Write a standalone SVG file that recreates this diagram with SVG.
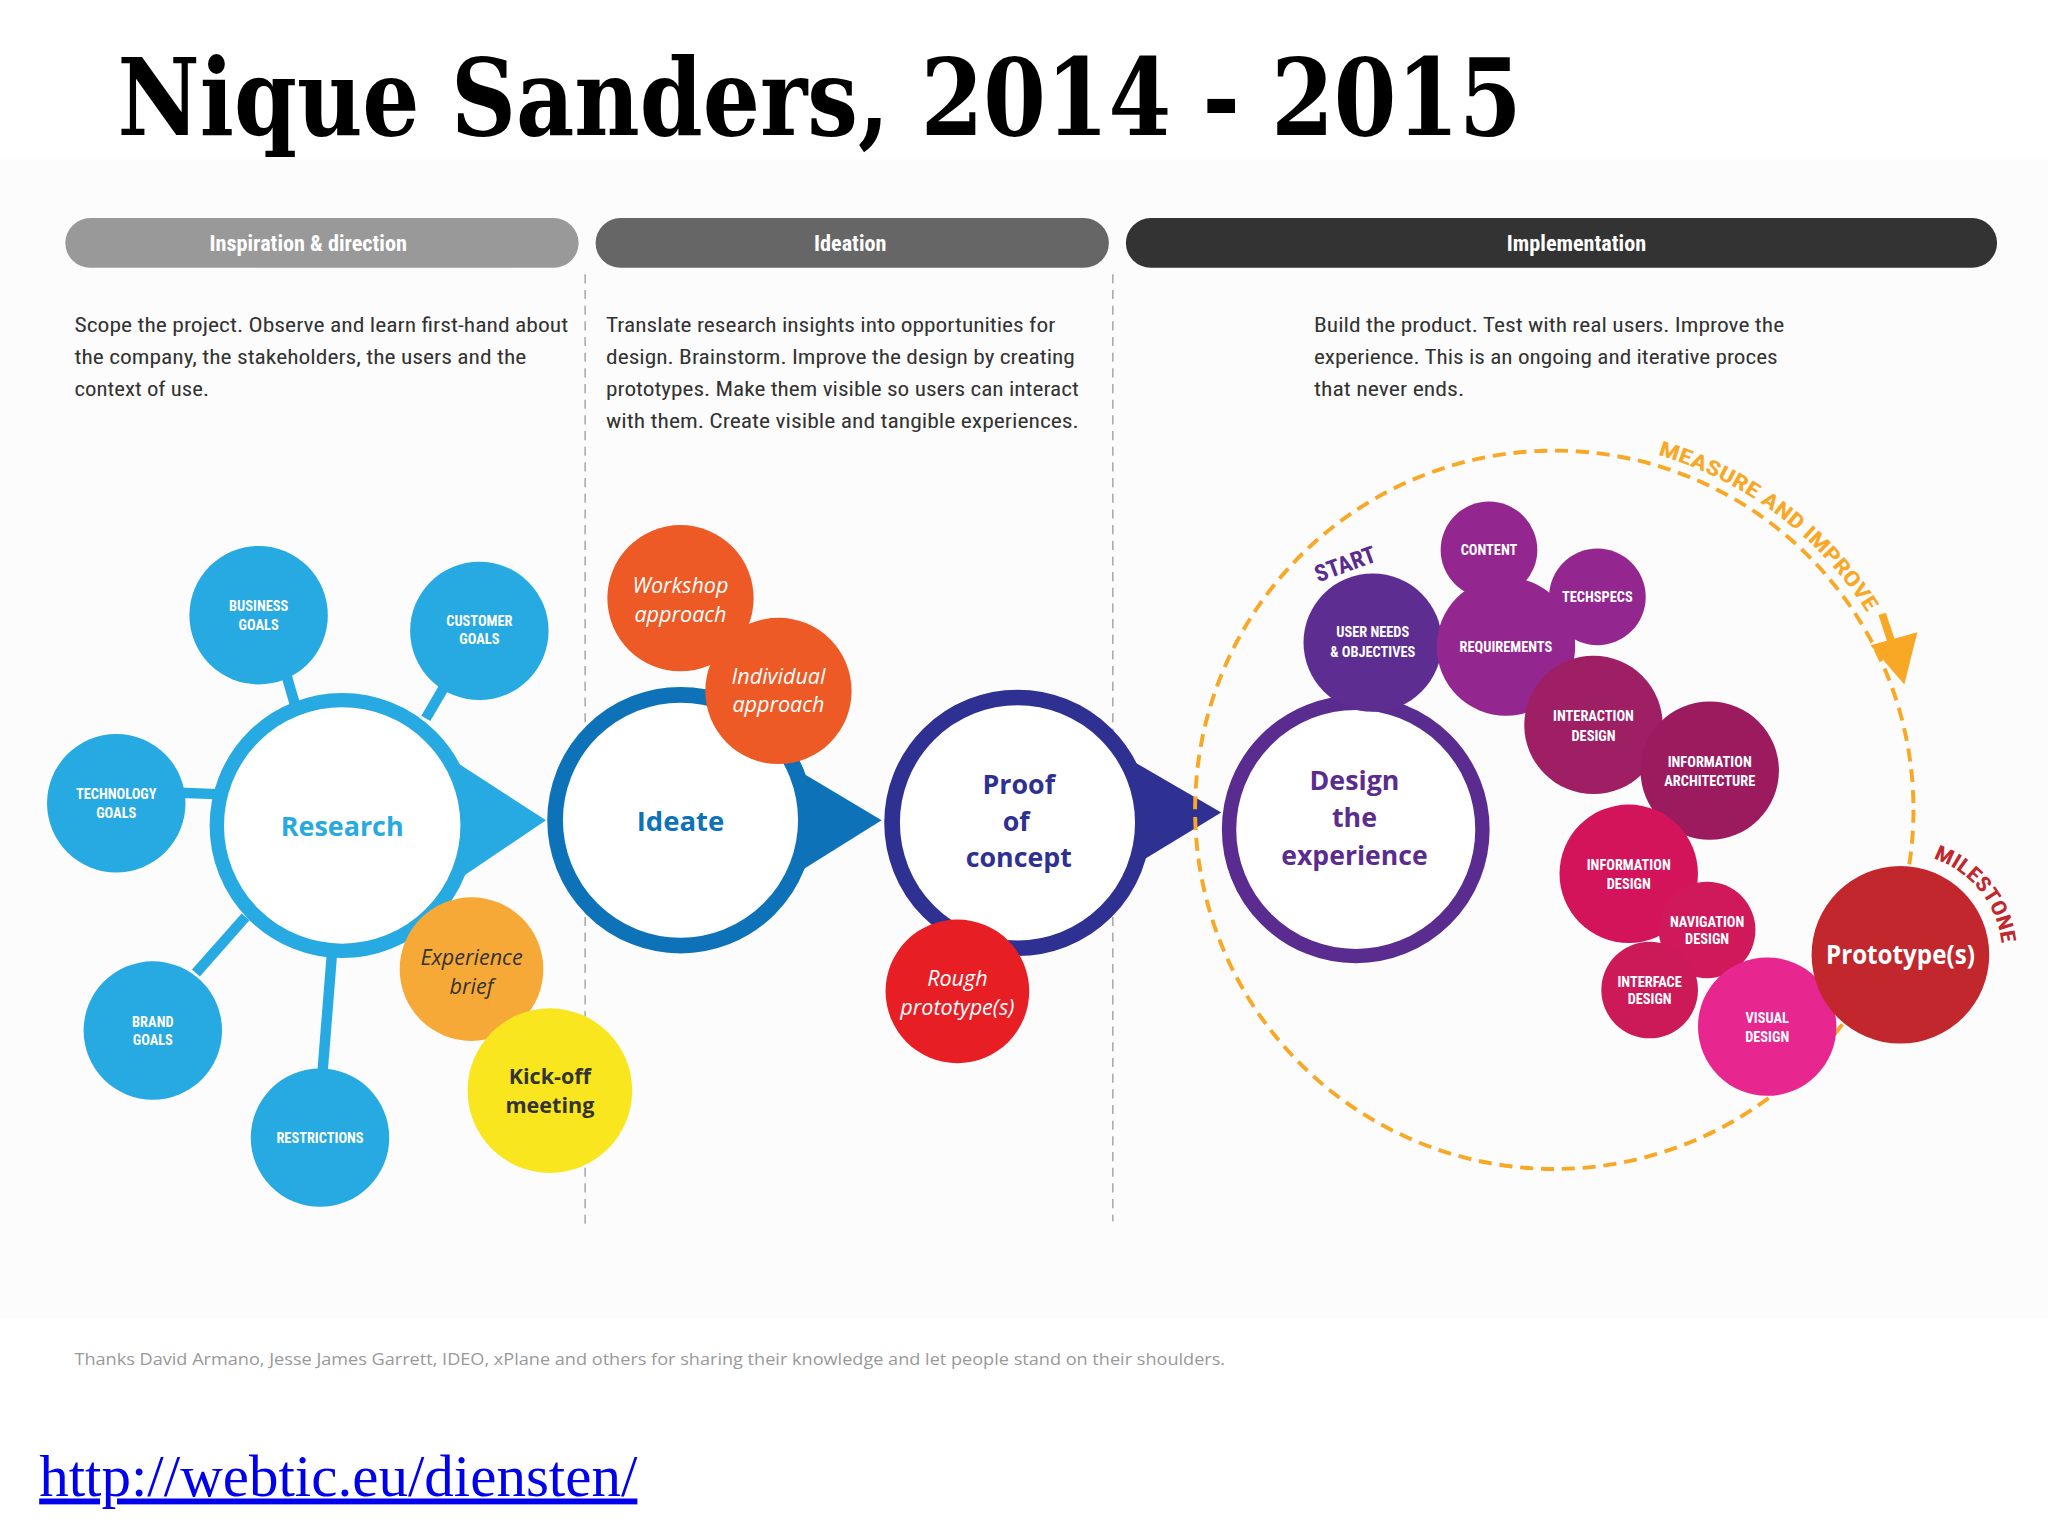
<svg xmlns="http://www.w3.org/2000/svg" width="2048" height="1536" viewBox="0 0 2048 1536">
<style>
.lbl{font-family:"Liberation Sans Narrow","Roboto Condensed",Roboto,sans-serif;font-weight:bold;fill:#fff;text-anchor:middle;font-size:11px}
.big{font-family:"Open Sans",Roboto,sans-serif;font-weight:bold;text-anchor:middle;font-size:20.5px}
.it{font-family:"Open Sans",Roboto,sans-serif;font-style:italic;text-anchor:middle;font-size:16.5px}
.kick{font-family:"Open Sans",Roboto,sans-serif;font-weight:bold;text-anchor:middle;font-size:16.5px;fill:#333}
.para{font-family:"Liberation Sans Narrow","Roboto Condensed",Roboto,sans-serif;font-size:16px;fill:#333}
.hdr{font-family:"Liberation Sans Narrow","Roboto Condensed",Roboto,sans-serif;font-size:17px;fill:#fff;text-anchor:middle;font-weight:bold}
.conn{stroke:#27a9e1;stroke-width:8;fill:none}
.sat{fill:#27a9e1}
.vdash{stroke:#aaa;stroke-width:1.2;stroke-dasharray:7 5;fill:none}
</style>
<defs>
<path id="measurePath" d="M1239.1,341.3 A283,283 0 0,1 1468.7,669.1"/>
<path id="milePath" d="M1468.5,654.2 A78,78 0 0,1 1531.8,744.5"/>
</defs>
<rect x="0" y="0" width="2048" height="1536" fill="#ffffff"/>
<g transform="scale(1.306122)">
<rect x="0" y="122" width="1568" height="888" fill="#fcfcfc"/>
<g id="title">
<text x="90" y="103" font-family="'DejaVu Serif',serif" font-weight="bold" font-size="82" fill="#000" textLength="1075" lengthAdjust="spacingAndGlyphs">Nique Sanders, 2014 - 2015</text>
</g>
<g id="headers">
<rect x="50" y="167" width="393" height="38" rx="19" fill="#999999"/>
<text class="hdr" x="236" y="192">Inspiration &amp; direction</text>
<rect x="456" y="167" width="393" height="38" rx="19" fill="#666666"/>
<text class="hdr" x="651" y="192">Ideation</text>
<rect x="862" y="167" width="667" height="38" rx="19" fill="#333333"/>
<text class="hdr" x="1207" y="192">Implementation</text>
</g>
<g id="dividers">
<line class="vdash" x1="448" y1="210" x2="448" y2="940"/>
<line class="vdash" x1="852" y1="210" x2="852" y2="935"/>
</g>
<g id="paragraphs">
<text class="para" x="57" y="254" textLength="378" lengthAdjust="spacingAndGlyphs">Scope the project. Observe and learn first-hand about</text>
<text class="para" x="57" y="279" textLength="346" lengthAdjust="spacingAndGlyphs">the company, the stakeholders, the users and the</text>
<text class="para" x="57" y="303" textLength="103" lengthAdjust="spacingAndGlyphs">context of use.</text>
<text class="para" x="464" y="254" textLength="344" lengthAdjust="spacingAndGlyphs">Translate research insights into opportunities for</text>
<text class="para" x="464" y="279" textLength="359" lengthAdjust="spacingAndGlyphs">design. Brainstorm. Improve the design by creating</text>
<text class="para" x="464" y="303" textLength="362" lengthAdjust="spacingAndGlyphs">prototypes. Make them visible so users can interact</text>
<text class="para" x="464" y="328" textLength="362" lengthAdjust="spacingAndGlyphs">with them. Create visible and tangible experiences.</text>
<text class="para" x="1006" y="254" textLength="360" lengthAdjust="spacingAndGlyphs">Build the product. Test with real users. Improve the</text>
<text class="para" x="1006" y="279" textLength="355" lengthAdjust="spacingAndGlyphs">experience. This is an ongoing and iterative proces</text>
<text class="para" x="1006" y="303" textLength="115" lengthAdjust="spacingAndGlyphs">that never ends.</text>
</g>
<g id="connectors">
<line class="conn" x1="219" y1="516" x2="226" y2="540"/>
<line class="conn" x1="340" y1="526" x2="326" y2="550"/>
<line class="conn" x1="138" y1="607" x2="166" y2="608"/>
<line class="conn" x1="150" y1="745" x2="188" y2="702"/>
<line class="conn" x1="247" y1="820" x2="254" y2="732"/>
<polygon points="350,584 418,628 350,674" fill="#27a9e1"/>
<polygon points="608,588 675,628 608,670" fill="#0e72b9"/>
<polygon points="866,582 935,622 866,664" fill="#2e3192"/>
<circle cx="1190" cy="620" r="275" fill="none" stroke="#f9a826" stroke-width="3" stroke-dasharray="10 6"/>
<line x1="1441" y1="470" x2="1449" y2="494" stroke="#f9a826" stroke-width="6"/>
<polygon points="1432,494 1468,484 1458,524" fill="#f9a826"/>
</g>
<g id="research">
<circle cx="262" cy="632" r="96" fill="#fff" stroke="#27a9e1" stroke-width="11"/>
<text class="big" x="262" y="640" fill="#27a9e1" textLength="94" lengthAdjust="spacingAndGlyphs">Research</text>
</g>
<g id="business-goals"><circle class="sat" cx="198" cy="471" r="53"/><text class="lbl" x="198" y="468">BUSINESS</text><text class="lbl" x="198" y="482">GOALS</text></g>
<g id="customer-goals"><circle class="sat" cx="367" cy="483" r="53"/><text class="lbl" x="367" y="479">CUSTOMER</text><text class="lbl" x="367" y="493">GOALS</text></g>
<g id="technology-goals"><circle class="sat" cx="89" cy="615" r="53"/><text class="lbl" x="89" y="612">TECHNOLOGY</text><text class="lbl" x="89" y="626">GOALS</text></g>
<g id="brand-goals"><circle class="sat" cx="117" cy="789" r="53"/><text class="lbl" x="117" y="786">BRAND</text><text class="lbl" x="117" y="800">GOALS</text></g>
<g id="restrictions"><circle class="sat" cx="245" cy="871" r="53"/><text class="lbl" x="245" y="875">RESTRICTIONS</text></g>
<g id="experience-brief"><circle cx="361" cy="742" r="55" fill="#f7a937"/><text class="it" x="361" y="739" fill="#333">Experience</text><text class="it" x="361" y="761" fill="#333">brief</text></g>
<g id="kick-off"><circle cx="421" cy="835" r="63" fill="#f9e61e"/><text class="kick" x="421" y="830">Kick-off</text><text class="kick" x="421" y="852">meeting</text></g>
<g id="ideate">
<circle cx="521" cy="628" r="96" fill="#fff" stroke="#0e72b9" stroke-width="12"/>
<text class="big" x="521" y="636" fill="#0e72b9" textLength="67" lengthAdjust="spacingAndGlyphs">Ideate</text>
</g>
<g id="workshop"><circle cx="521" cy="458" r="56" fill="#ee5a26"/><text class="it" x="521" y="454" fill="#fff">Workshop</text><text class="it" x="521" y="476" fill="#fff">approach</text></g>
<g id="individual"><circle cx="596" cy="529" r="56" fill="#ee5a26"/><text class="it" x="596" y="524" fill="#fff">Individual</text><text class="it" x="596" y="545" fill="#fff">approach</text></g>
<g id="proof">
<circle cx="779" cy="630" r="96" fill="#fff" stroke="#2e3192" stroke-width="12"/>
<text class="big" x="780" y="608" fill="#2e3192">Proof</text>
<text class="big" x="778" y="636" fill="#2e3192">of</text>
<text class="big" x="780" y="664" fill="#2e3192">concept</text>
</g>
<g id="rough"><circle cx="733" cy="759" r="55" fill="#e81e25"/><text class="it" x="733" y="755" fill="#fff">Rough</text><text class="it" x="733" y="777" fill="#fff">prototype(s)</text></g>
<g id="design">
<circle cx="1038" cy="635" r="97" fill="#fff" stroke="#5b2c8f" stroke-width="11"/>
<text class="big" x="1037" y="605" fill="#5b2c8f">Design</text>
<text class="big" x="1037" y="633" fill="#5b2c8f">the</text>
<text class="big" x="1037" y="662" fill="#5b2c8f" textLength="112" lengthAdjust="spacingAndGlyphs">experience</text>
</g>
<g id="user-needs"><circle cx="1051" cy="492" r="53" fill="#5e2d91"/><text class="lbl" x="1051" y="488">USER NEEDS</text><text class="lbl" x="1051" y="503">&amp; OBJECTIVES</text></g>
<g id="content"><circle cx="1140" cy="421" r="37" fill="#93278f"/><text class="lbl" x="1140" y="425" font-size="10">CONTENT</text></g>
<g id="techspecs"><circle cx="1223" cy="457" r="37" fill="#93278f"/><text class="lbl" x="1223" y="461" font-size="10">TECHSPECS</text></g>
<g id="requirements"><circle cx="1153" cy="495" r="53" fill="#93278f"/><text class="lbl" x="1153" y="499">REQUIREMENTS</text></g>
<g id="interaction-design"><circle cx="1220" cy="555" r="53" fill="#9e1f63"/><text class="lbl" x="1220" y="552">INTERACTION</text><text class="lbl" x="1220" y="567">DESIGN</text></g>
<g id="information-architecture"><circle cx="1309" cy="590" r="53" fill="#9c1a5e"/><text class="lbl" x="1309" y="587">INFORMATION</text><text class="lbl" x="1309" y="602">ARCHITECTURE</text></g>
<g id="information-design"><circle cx="1247" cy="669" r="53" fill="#d4145a"/><text class="lbl" x="1247" y="666">INFORMATION</text><text class="lbl" x="1247" y="681">DESIGN</text></g>
<g id="navigation-design"><circle cx="1307" cy="712" r="37" fill="#d0195a"/><text class="lbl" x="1307" y="710" font-size="9.5">NAVIGATION</text><text class="lbl" x="1307" y="723" font-size="9.5">DESIGN</text></g>
<g id="interface-design"><circle cx="1263" cy="758" r="37" fill="#cc1a58"/><text class="lbl" x="1263" y="756" font-size="9.5">INTERFACE</text><text class="lbl" x="1263" y="769" font-size="9.5">DESIGN</text></g>
<g id="visual-design"><circle cx="1353" cy="786" r="53" fill="#e8268f"/><text class="lbl" x="1353" y="783">VISUAL</text><text class="lbl" x="1353" y="798">DESIGN</text></g>
<g id="prototypes"><circle cx="1455" cy="731" r="68" fill="#c1272d"/><text class="big" x="1455" y="738" fill="#fff" font-size="19" textLength="114" lengthAdjust="spacingAndGlyphs">Prototype(s)</text></g>
<g id="loop-labels">
<text font-family="'Liberation Sans Narrow','Roboto Condensed',Roboto,sans-serif" font-size="16" font-weight="bold" fill="#f9a826"><textPath href="#measurePath" startOffset="31" textLength="205" lengthAdjust="spacingAndGlyphs">MEASURE AND IMPROVE</textPath></text>
<text font-family="'Liberation Sans Narrow','Roboto Condensed',Roboto,sans-serif" font-size="16" font-weight="bold" fill="#c1272d"><textPath href="#milePath" startOffset="12" textLength="88" lengthAdjust="spacingAndGlyphs">MILESTONE</textPath></text>
<text x="1030" y="438" transform="rotate(-20 1030 432)" font-family="'Liberation Sans Narrow','Roboto Condensed',Roboto,sans-serif" font-size="18" font-weight="bold" fill="#5b2c8f" text-anchor="middle">START</text>
</g>
<g id="footer">
<text x="57" y="1045" font-family="'Open Sans',Roboto,sans-serif" font-size="12.5" fill="#999" textLength="881" lengthAdjust="spacingAndGlyphs">Thanks David Armano, Jesse James Garrett, IDEO, xPlane and others for sharing their knowledge and let people stand on their shoulders.</text>
<text x="30" y="1145" font-family="'Liberation Serif',serif" font-size="45" fill="#0000ee" text-decoration="underline" textLength="458" lengthAdjust="spacingAndGlyphs">http://webtic.eu/diensten/</text>
</g>
</g>
</svg>
